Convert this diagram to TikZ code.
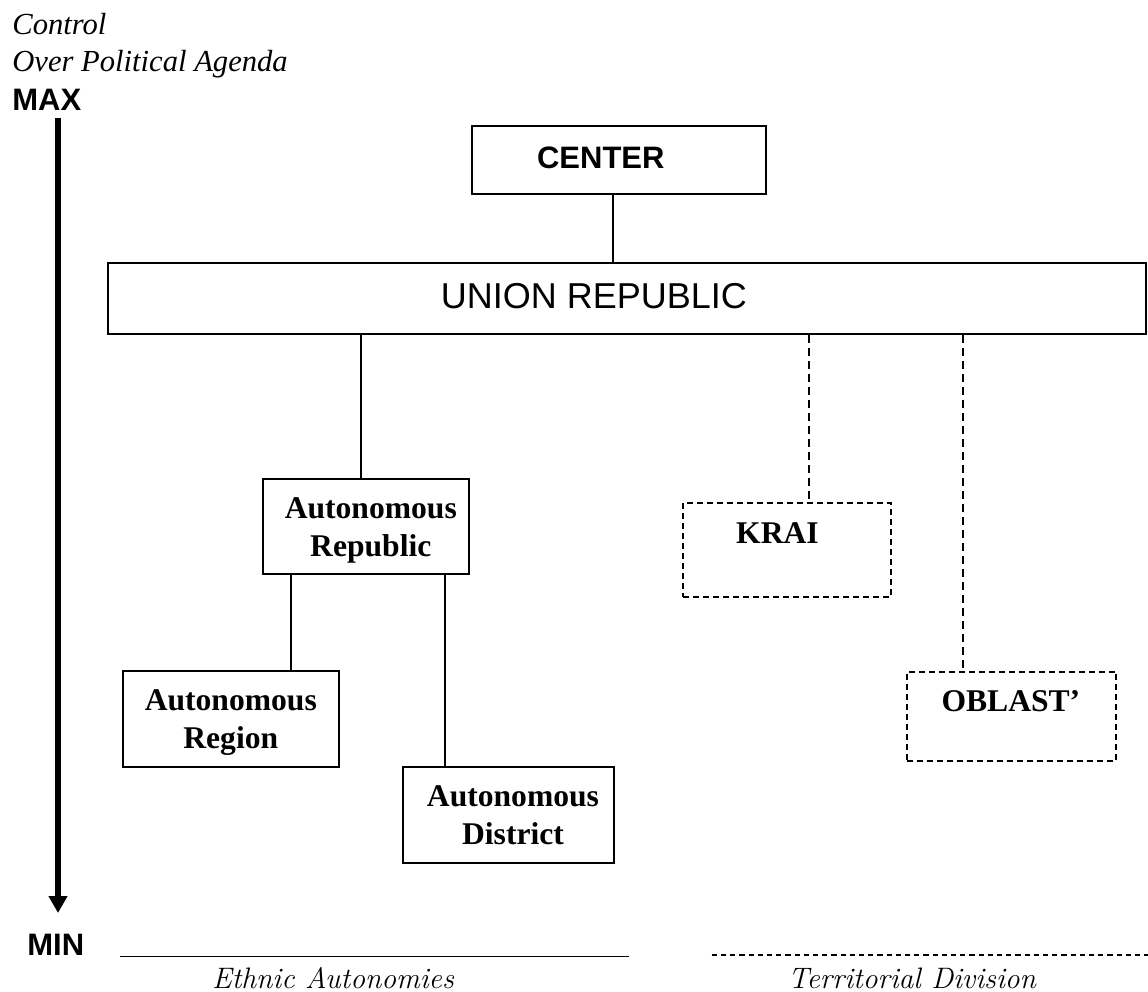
\documentclass[tikz,border=0pt]{standalone}
\usepackage{fontspec}
\usetikzlibrary{arrows.meta}
\newfontfamily\sansf{Liberation Sans}
\newfontfamily\seriff{Liberation Serif}
\newcommand\boxfont{\seriff\bfseries\fontsize{15.8}{19}\selectfont}
\newcommand\twolines[2]{\begin{tabular}[t]{@{}c@{}}#1\\#2\end{tabular}}
\begin{document}
\begin{tikzpicture}[x=0.5pt,y=-0.5pt,
  box/.style={draw, line width=0.9pt, inner sep=0pt},
  dbox/.style={box, dash pattern=on 3pt off 2pt},
  link/.style={line width=0.75pt},
  dlink/.style={link, line width=0.8pt, dash pattern=on 4pt off 2.5pt},
  lbl/.style={inner sep=0pt, anchor=base},
  boxtext/.style={lbl, font=\boxfont}]
\useasboundingbox (0,0) rectangle (1148,992);

% axis caption and scale ends
\node[lbl, anchor=base west, font=\seriff\itshape\fontsize{15.3}{18.5}\selectfont] (cap1) at (12,34) {Control};
\node[lbl, anchor=base west, font=\seriff\itshape\fontsize{15.3}{18.5}\selectfont] (cap2) at (12,71) {Over Political Agenda};
\node[lbl, anchor=base west, font=\sansf\bfseries\fontsize{15.5}{18}\selectfont] (max) at (12,110) {MAX};
\node[lbl, anchor=base west, font=\sansf\bfseries\fontsize{15.5}{18}\selectfont] (min) at (27,955) {MIN};
\coordinate (atop) at (58,118);
\coordinate (abot) at (58,913);
\draw[line width=2.8pt, -{Triangle[width=9pt,length=8.5pt]}] (atop) -- (abot);

% boxes
\node[box, minimum width=147.2pt, minimum height=34pt] (center) at (618.85,160) {};
\node[box, minimum width=518.9pt, minimum height=35.7pt] (union) at (627.2,298.4) {};
\node[box, minimum width=103.2pt, minimum height=47.7pt] (autrep) at (365.9,526.4) {};
\node[dbox, minimum width=103.7pt, minimum height=47.3pt] (krai) at (787,550) {};
\node[dbox, minimum width=104.7pt, minimum height=44.5pt] (oblast) at (1011.4,716.2) {};
\node[box, minimum width=108.3pt, minimum height=48pt] (autreg) at (231,718.7) {};
\node[box, minimum width=105.5pt, minimum height=48pt] (autdist) at (508.5,815) {};

% box labels
\node[lbl, font=\sansf\bfseries\fontsize{15.5}{18}\selectfont] (centert) at (600.8,168.3) {CENTER};
\node[lbl, font=\sansf\fontsize{18}{21}\selectfont] (uniont) at (594,308.3) {UNION REPUBLIC};
\node[boxtext] (autrept) at (370.8,518.3) {\twolines{Autonomous}{Republic}};
\node[boxtext] (kait) at (777.5,543.3) {KRAI};
\node[boxtext] (oblastt) at (1010.9,711.7) {OBLAST’};
\node[boxtext] (autregt) at (230.8,710) {\twolines{Autonomous}{Region}};
\node[boxtext] (autdistt) at (513,806) {\twolines{Autonomous}{District}};

% connectors
\coordinate (xc) at (613,0);
\coordinate (xa) at (361,0);
\coordinate (xk) at (808.7,0);
\coordinate (xo) at (962.7,0);
\coordinate (xr) at (291,0);
\coordinate (xd) at (445,0);
\draw[link] (center.south -| xc) -- (union.north -| xc);
\draw[link] (union.south -| xa) -- (autrep.north -| xa);
\draw[dlink] (union.south -| xk) -- (krai.north -| xk);
\draw[dlink] (union.south -| xo) -- (oblast.north -| xo);
\draw[link] (autrep.south -| xr) -- (autreg.north -| xr);
\draw[link] (autrep.south -| xd) -- (autdist.north -| xd);

% legend at the bottom
\coordinate (e1) at (120,956.7);
\coordinate (e2) at (628.6,956.7);
\coordinate (t1) at (711.7,955);
\coordinate (t2) at (1148,955);
\draw[link] (e1) -- (e2);
\draw[link, dash pattern=on 2.6pt off 2pt] (t1) -- (t2);
\node[lbl, font=\itshape\fontsize{14.8}{17}\selectfont] (ethnic) at (333,988) {Ethnic Autonomies};
\node[lbl, font=\itshape\fontsize{14.8}{17}\selectfont] (territ) at (912,988) {Territorial Division};
\end{tikzpicture}
\end{document}
